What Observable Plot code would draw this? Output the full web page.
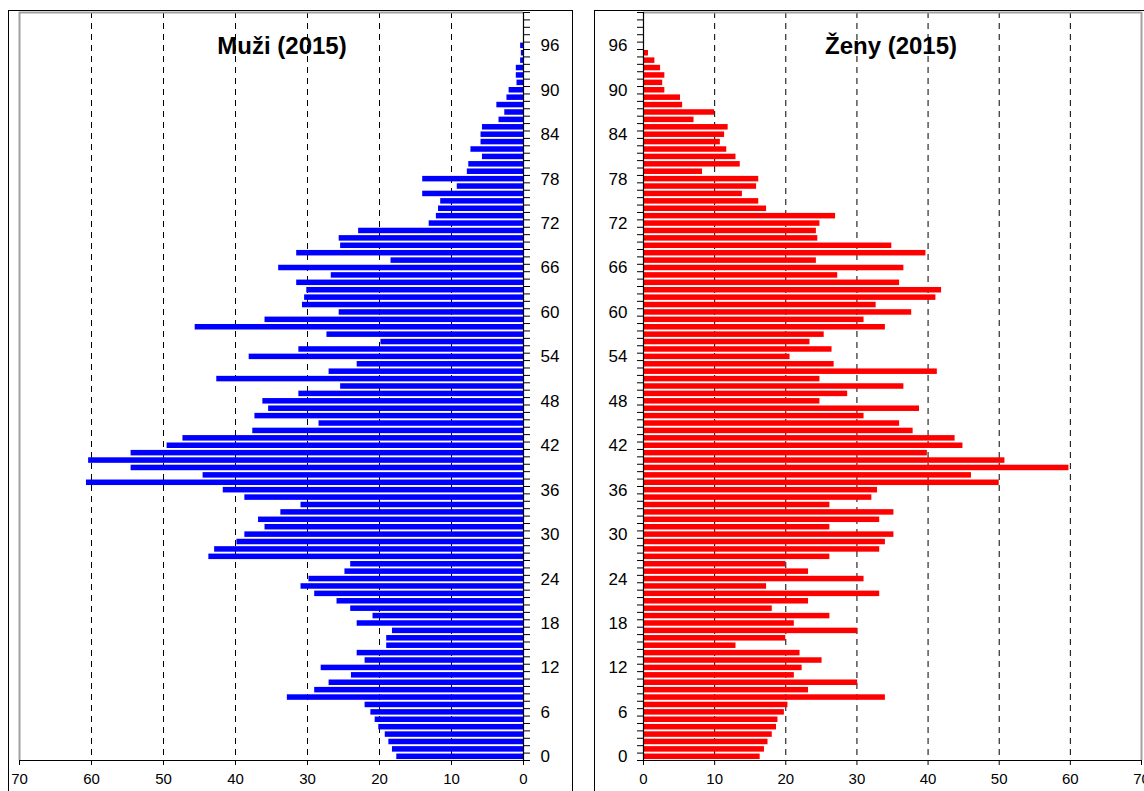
<!DOCTYPE html>
<html><head><meta charset="utf-8">
<script src="https://cdn.jsdelivr.net/npm/d3@7"></script>
<script src="https://cdn.jsdelivr.net/npm/@observablehq/plot@0.6"></script>
<style>
html,body{margin:0;padding:0;background:#fff;overflow:hidden;width:1144px;height:791px;}
body{position:relative;font-family:"Liberation Sans",Arial,sans-serif;}
.panel{position:absolute;border:1px solid #000;box-sizing:border-box;}
.chart{position:absolute;top:0;}
.chart svg{overflow:visible;max-width:none;}
.title{position:absolute;font-weight:bold;font-size:24px;transform:translate(-50%,-50%);white-space:nowrap;color:#000;}
</style></head>
<body>
<div class="panel" style="left:8px;top:10px;width:565px;height:800px"></div>
<div class="panel" style="left:594px;top:10px;width:560px;height:800px"></div>
<div id="left" class="chart" style="left:0px"></div>
<div id="right" class="chart" style="left:580px"></div>
<div class="title" style="left:282px;top:46px">Muži (2015)</div>
<div class="title" style="left:891px;top:46px">Ženy (2015)</div>
<script>
// Number of persons by single year of age (age 0 = first value)
const men = [17.6,18.2,18.7,19.2,20.1,20.6,21.2,22.0,32.8,29.0,
  27.0,23.9,28.1,22.0,23.1,19.0,19.0,18.2,23.1,20.9,
  24.0,25.9,29.0,30.9,29.8,24.8,24.0,43.7,42.9,39.8,
  38.7,35.9,36.8,33.7,30.9,38.7,41.7,60.7,44.5,54.5,
  60.4,54.5,49.5,47.3,37.6,28.4,37.3,35.4,36.2,31.2,
  25.4,42.6,27.0,23.1,38.1,31.2,19.8,27.3,45.6,35.9,
  25.6,30.7,30.4,30.1,31.5,26.7,34.0,18.4,31.5,25.4,
  25.6,22.9,13.1,12.1,11.8,11.5,14.0,9.2,14.0,7.8,
  7.6,5.7,7.3,5.9,5.9,5.7,3.4,2.6,3.7,2.3,
  2.0,0.9,1.0,1.0,0.4,0.3,0.4];
const women = [16.4,17.0,17.5,18.1,18.7,18.9,19.8,20.3,34.0,23.2,
  30.1,21.2,22.3,25.1,22.0,13.0,20.0,30.1,21.2,26.2,
  18.1,23.2,33.2,17.3,31.0,23.2,20.0,26.2,33.2,34.0,
  35.2,26.2,33.2,35.2,26.2,32.1,32.9,50.0,46.1,59.8,
  50.8,39.9,44.9,43.8,37.9,36.0,31.0,38.8,24.8,28.7,
  36.6,24.8,41.3,26.8,20.6,26.5,23.4,25.4,34.0,31.0,
  37.7,32.7,41.1,41.9,36.0,27.3,36.6,24.3,39.7,34.9,
  24.5,24.3,24.8,27.0,17.3,16.2,13.9,15.9,16.2,8.3,
  13.6,13.0,11.7,10.8,11.4,11.9,7.1,10.0,5.5,5.2,
  3.0,2.7,3.0,2.4,1.6,0.7];
const ageMax = 100;                       // age categories 0..100 on the axis
const ageLabels = [0,6,12,18,24,30,36,42,48,54,60,66,72,78,84,90,96];
const xTicks = [0,10,20,30,40,50,60,70];
const gridValues = [10,20,30,40,50,60];

const font = '"Liberation Sans", Arial, sans-serif';
const ageBounds = d3.range(-0.5, ageMax + 1, 1);   // category boundaries (tick marks)

function toRows(vals) { return vals.map((v, i) => ({age: i, v})); }

function makePanel(vals, color, isLeft) {
  const rows = toRows(vals);
  return Plot.plot({
    width: isLeft ? 580 : 564,
    height: 791,
    marginLeft: isLeft ? 19 : 63,
    marginRight: isLeft ? 57 : 3,
    marginTop: 12,
    marginBottom: 31,
    style: {fontFamily: font, background: "transparent", color: "#000", overflow: "visible"},
    x: {domain: [0, 70], reverse: isLeft, label: null},
    y: {domain: [-0.5, ageMax + 0.5], label: null},
    marks: [
      Plot.ruleX(gridValues, {stroke: "#000", strokeWidth: 1, strokeDasharray: "6,5"}),
      Plot.rectX(rows, {x1: 0, x2: "v", y1: d => d.age - 0.5, y2: d => d.age + 0.5,
        insetTop: 0.95, insetBottom: 0.95, fill: color}),
      Plot.ruleY([ageMax + 0.5], {stroke: "#a0a0a0", strokeWidth: 2}),
      Plot.ruleX([70], {stroke: "#a0a0a0", strokeWidth: 2}),
      Plot.ruleX([0], {stroke: "#000", strokeWidth: 1.2}),
      Plot.ruleY([-0.5], {stroke: "#000", strokeWidth: 1.2}),
      Plot.axisX({ticks: xTicks, tickSize: 5, tickPadding: 8, fontSize: 15, label: null, tickFormat: d => String(d)}),
      Plot.axisY({anchor: isLeft ? "right" : "left", ticks: ageBounds, tickSize: 6, tickFormat: () => "", label: null}),
      Plot.axisY({anchor: isLeft ? "right" : "left", ticks: ageLabels, tickSize: 0,
        tickPadding: isLeft ? 17 : 16, fontSize: 17, label: null, tickFormat: d => String(d)})
    ]
  });
}

document.getElementById("left").append(makePanel(men, "#0000ff", true));
document.getElementById("right").append(makePanel(women, "#ff0000", false));
</script>
</body></html>
